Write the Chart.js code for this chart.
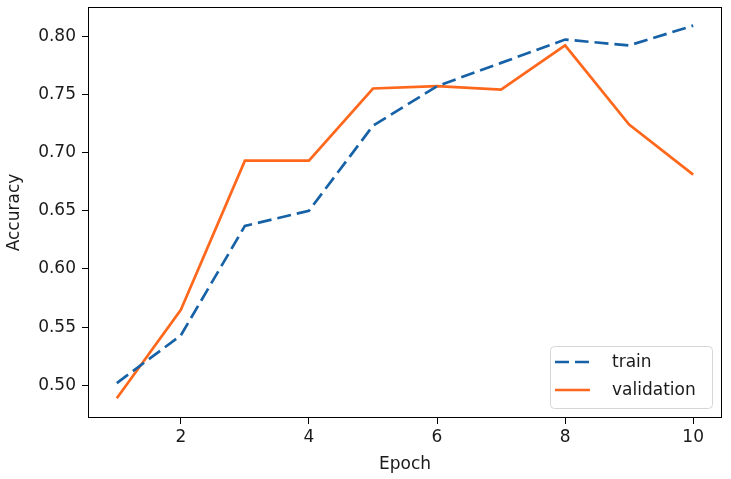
<!DOCTYPE html>
<html lang="en">
<head>
    <meta charset="UTF-8">
    <title>Accuracy per epoch</title>
    <style>
        body {
            margin: 0;
            padding: 0;
            background-color: #ffffff;
        }
        #chart {
            display: block;
        }
    </style>
</head>
<body>
    <canvas id="chart" width="731" height="479"></canvas>
    <script src="https://cdn.jsdelivr.net/npm/chart.js"></script>
    <script>
        // values
        const epochs = [1, 2, 3, 4, 5, 6, 7, 8, 9, 10];
        const trainAcc = [0.502, 0.543, 0.637, 0.650, 0.723, 0.757, 0.777, 0.797, 0.792, 0.809];
        const valAcc = [0.489, 0.565, 0.693, 0.693, 0.755, 0.757, 0.754, 0.792, 0.724, 0.681];
        const xTicks = [2, 4, 6, 8, 10];
        const yTicks = [0.50, 0.55, 0.60, 0.65, 0.70, 0.75, 0.80];

        const FONT = { family: 'DejaVu Sans', size: 17 };
        const TEXT = '#1a1a1a';

        function points(ys) {
            return epochs.map((e, i) => ({ x: e, y: ys[i] }));
        }

        // matplotlib-like box round the plot area
        const framePlugin = {
            id: 'frame',
            afterDraw(chart) {
                const a = chart.chartArea;
                const ctx = chart.ctx;
                ctx.save();
                ctx.strokeStyle = '#000';
                ctx.lineWidth = 1;
                ctx.strokeRect(Math.round(a.left) + 0.5, Math.round(a.top) + 0.5,
                    Math.round(a.right - a.left) - 1, Math.round(a.bottom - a.top) - 1);
                ctx.restore();
            }
        };

        // legend in the lower right corner, inside the axes
        const boxLegend = {
            id: 'boxLegend',
            afterDraw(chart) {
                const a = chart.chartArea;
                const ctx = chart.ctx;
                const sets = chart.data.datasets;
                const w = 162, rowH = 28, h = 62;
                const x0 = Math.round(a.right - 10 - w);
                const y0 = Math.round(a.bottom - 10 - h);
                ctx.save();
                ctx.fillStyle = 'rgba(255,255,255,0.8)';
                ctx.strokeStyle = '#d6d6d6';
                ctx.lineWidth = 1;
                ctx.beginPath();
                ctx.roundRect(x0 + 0.5, y0 + 0.5, w, h, 4);
                ctx.fill();
                ctx.stroke();
                ctx.font = FONT.size + 'px ' + FONT.family;
                ctx.textBaseline = 'middle';
                sets.forEach((ds, i) => {
                    const y = y0 + 16 + i * rowH;
                    ctx.strokeStyle = ds.borderColor;
                    ctx.lineWidth = ds.borderWidth;
                    ctx.setLineDash(ds.borderDash || []);
                    ctx.beginPath();
                    ctx.moveTo(x0 + 5, y);
                    ctx.lineTo(x0 + 40, y);
                    ctx.stroke();
                    ctx.setLineDash([]);
                    ctx.fillStyle = TEXT;
                    ctx.fillText(ds.label, x0 + 62, y + 1);
                });
                ctx.restore();
            }
        };

        function noPad(s) {
            s.paddingTop = 0;
            s.paddingBottom = 0;
            s.paddingLeft = 0;
            s.paddingRight = 0;
        }

        new Chart(document.getElementById('chart'), {
            type: 'line',
            data: {
                datasets: [{
                    label: 'train',
                    data: points(trainAcc),
                    borderColor: '#1762a6',
                    borderWidth: 2.7,
                    borderDash: [14, 6],
                    pointRadius: 0,
                    tension: 0,
                    fill: false
                }, {
                    label: 'validation',
                    data: points(valAcc),
                    borderColor: '#ff681c',
                    borderWidth: 2.7,
                    pointRadius: 0,
                    tension: 0,
                    fill: false
                }]
            },
            options: {
                responsive: false,
                devicePixelRatio: 1,
                animation: false,
                layout: { padding: { top: 7, right: 9, left: 0, bottom: 0 } },
                plugins: {
                    legend: { display: false },
                    tooltip: { enabled: false }
                },
                scales: {
                    x: {
                        type: 'linear',
                        min: 0.55,
                        max: 10.45,
                        afterBuildTicks: s => { s.ticks = xTicks.map(v => ({ value: v })); },
                        afterFit: s => { s.height = 61; noPad(s); },
                        grid: { drawOnChartArea: false, tickLength: 6, tickColor: '#000' },
                        border: { display: false },
                        ticks: {
                            font: FONT,
                            color: TEXT,
                            padding: 3,
                            maxRotation: 0,
                            callback: v => String(v)
                        },
                        title: { display: true, text: 'Epoch', font: FONT, color: TEXT, padding: { top: 4, bottom: 4 } }
                    },
                    y: {
                        type: 'linear',
                        min: 0.472,
                        max: 0.825,
                        afterBuildTicks: s => { s.ticks = yTicks.map(v => ({ value: v })); },
                        afterFit: s => { s.width = 88; noPad(s); },
                        grid: { drawOnChartArea: false, tickLength: 6, tickColor: '#000' },
                        border: { display: false },
                        ticks: {
                            font: FONT,
                            color: TEXT,
                            padding: 6,
                            callback: v => v.toFixed(2)
                        },
                        title: { display: true, text: 'Accuracy', font: FONT, color: TEXT, padding: { top: 4, bottom: 4 } }
                    }
                }
            },
            plugins: [framePlugin, boxLegend]
        });
    </script>
</body>
</html>
